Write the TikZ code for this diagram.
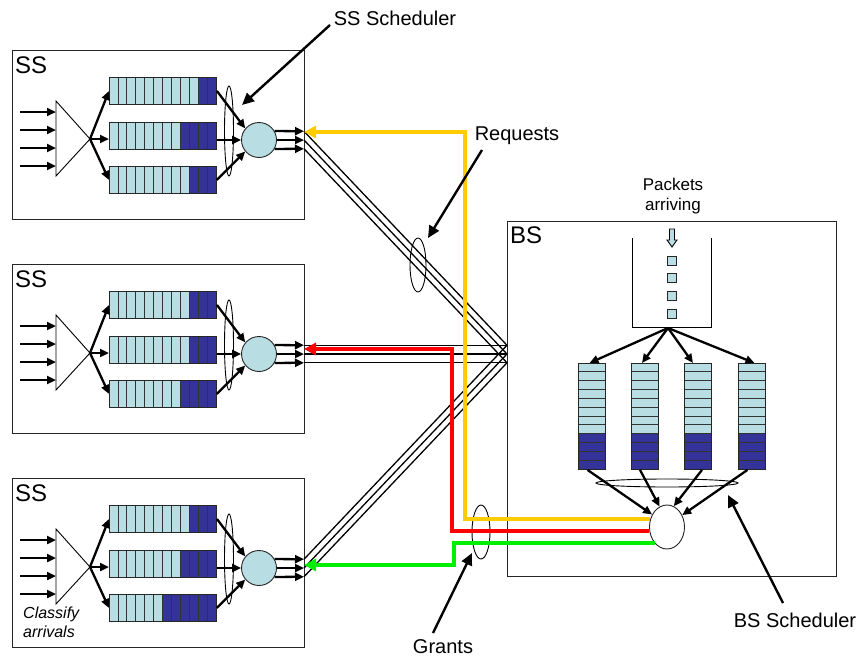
\documentclass[tikz,border=0pt]{standalone}
\usepackage{fontspec}
\setmainfont{Liberation Sans}
\usetikzlibrary{arrows.meta,calc,shapes.geometric}
\definecolor{qlight}{HTML}{B8DDE2}
\definecolor{qdark}{HTML}{333399}
\definecolor{reqc}{HTML}{FFCC00}
\definecolor{redc}{HTML}{FF0000}
\definecolor{grnc}{HTML}{00EE00}
\tikzset{
  box/.style={draw=black!85, line width=1.2pt, inner sep=0pt},
  qframe/.style={draw=black!85, line width=0.9pt, inner sep=0pt},
  cellst/.style={draw=black!80, line width=0.8pt},
  thinl/.style={draw=black, line width=0.9pt},
  arr/.style={line width=2.3pt, -{Triangle[length=9pt,width=8pt]}},
  larr/.style={line width=2.4pt, -{Triangle[length=12pt,width=11pt]}},
  bund/.style={line width=1.3pt},
  colline/.style={line width=4pt, line join=miter, -{Triangle[length=12pt,width=12pt]}},
  sched/.style={circle, draw=black!85, line width=0.9pt, fill=qlight, minimum size=35pt, inner sep=0pt},
  big/.style={font=\fontsize{24}{28}\selectfont, inner sep=0pt},
  lab/.style={font=\fontsize{20}{24}\selectfont, inner sep=0pt},
}
\newcommand{\hqueue}[4]{%
  \foreach \k in {0,...,11}{%
    \ifnum\k<#4\relax\def\cc{qlight}\else\def\cc{qdark}\fi
    \path[cellst, fill=\cc] (#2+\k*8.9167, #3) rectangle ++(8.9167,27);
  }
  \node[qframe, minimum width=107pt, minimum height=27pt, anchor=north west] (#1) at (#2,#3) {};
}
\newcommand{\vqueue}[2]{%
  \foreach \k in {0,...,11}{%
    \ifnum\k<8\relax\def\cc{qlight}\else\def\cc{qdark}\fi
    \path[cellst, fill=\cc] (#2-13.5, 363+\k*8.8333) rectangle ++(27,8.8333);
  }
  \node[qframe, minimum width=27pt, minimum height=106pt, anchor=north] (#1) at (#2,363) {};
}
\newcommand{\ssblock}[5]{%
  \begin{scope}[shift={(0,#2)}]
    \node[box, minimum width=292pt, minimum height=169pt, anchor=north west] (#1) at (12,0) {};
    \node[big, anchor=base west] (#1-lab) at (15,23) {SS};
    \coordinate (#1-apex) at (90,89);
    \draw[thinl] (56,51) -- (56,126) -- (#1-apex) -- cycle;
    \foreach \yy/\i in {62/1,80/2,98/3,116/4}{%
      \coordinate (#1-in\i) at (20,\yy);
      \coordinate (#1-tin\i) at (56,\yy);
      \draw[arr] (#1-in\i) -- (#1-tin\i);
    }
    \hqueue{#1-q1}{109}{27}{#3}
    \hqueue{#1-q2}{109}{72}{#4}
    \hqueue{#1-q3}{109}{116}{#5}
    \draw[arr] (#1-apex) -- (#1-q1.west);
    \draw[arr] (#1-apex) -- (#1-apex -| #1-q2.west);
    \draw[arr] (#1-apex) -- (#1-q3.west);
    \draw[thinl] (229,81) ellipse [x radius=4.5pt, y radius=45pt];
    \node[sched] (#1-c) at (259,90) {};
    \draw[arr] (#1-q1.east) -- (#1-c.140);
    \draw[arr] (#1-c.west -| #1-q2.east) -- (#1-c.west);
    \draw[arr] (#1-q3.east) -- (#1-c.220);
    \coordinate (#1-o1) at (304,81.25);
    \coordinate (#1-o2) at (304,90);
    \coordinate (#1-o3) at (304,98.75);
    \draw[arr] (#1-c.30) -- (#1-o1);
    \draw[arr] (#1-c.east) -- (#1-o2);
    \draw[arr] (#1-c.-30) -- (#1-o3);
  \end{scope}
}
\begin{document}
\begin{tikzpicture}[x=1pt,y=-1pt]
\useasboundingbox (0,0) rectangle (860,656);

% SS blocks
\ssblock{ssa}{50}{10}{8}{9}
\ssblock{ssb}{264}{9}{9}{8}
\ssblock{ssc}{478}{9}{8}{6}
\node[font=\fontsize{16}{19}\selectfont\itshape, align=left, anchor=north west, inner sep=0pt] (cls) at (23,607) {Classify\\arrivals};

% BS block
\node[box, minimum width=329pt, minimum height=355pt, anchor=north west] (bs) at (507,221) {};
\node[big, anchor=base west] (bslab) at (510,243) {BS};
\node[font=\fontsize{17}{20}\selectfont, align=center, anchor=north, inner sep=0pt] (pk) at (673,178) {Packets\\arriving};
\draw[thinl] (632,238) -- (632,327) -- (711,327) -- (711,238);
\draw[thinl, fill=qlight] (669.5,229) -- (674.5,229) -- (674.5,240) -- (677,240) -- (672,247) -- (667,240) -- (669.5,240) -- cycle;
\foreach \yy/\i in {261/1,278/2,296/3,314/4}{%
  \node[qframe, fill=qlight, minimum size=9pt] (pkt\i) at (672,\yy) {};
}
\coordinate (fork) at (668,328);
\vqueue{bq1}{591.5}
\vqueue{bq2}{645}
\vqueue{bq3}{698}
\vqueue{bq4}{751.5}
\draw[arr] (fork) -- ([xshift=-2pt]bq1.north);
\draw[arr] (fork) -- ([xshift=-3pt]bq2.north);
\draw[arr] (fork) -- ([xshift=-5pt]bq3.north);
\draw[arr] (fork) -- ([xshift=3pt]bq4.north);
\draw[thinl] (667,483) ellipse [x radius=71pt, y radius=4pt];
\node[ellipse, draw=black!85, line width=0.9pt, fill=white, minimum width=35pt, minimum height=44pt, inner sep=0pt] (bsc) at (667,527) {};
\draw[arr] ([xshift=-4pt]bq1.south) -- (bsc.140);
\draw[arr] ([xshift=-5pt]bq2.south) -- (bsc.110);
\draw[arr] ([xshift=4pt]bq3.south) -- (bsc.72);
\draw[arr] ([xshift=-4pt]bq4.south) -- (bsc.38);

% bundles
\coordinate (bsin1) at (507,345.25);
\coordinate (bsin2) at (507,354);
\coordinate (bsin3) at (507,362.75);
\foreach \s in {ssa,ssb,ssc}{%
  \foreach \k in {1,2,3}{%
    \draw[bund] (\s-o\k) -- (bsin\k);
  }
}
\draw[thinl] (418,265) ellipse [x radius=8pt, y radius=27pt];
\draw[thinl] (481,532) ellipse [x radius=9pt, y radius=27pt];

% request / grant lines
\coordinate (ytip) at (304,132);
\coordinate (rtip) at (304,349);
\coordinate (gtip) at (304,565);
\draw[colline, reqc] (bsc.155) -| (465,132) -- (ytip);
\draw[colline, redc] (bsc.193) -| (452,349) -- (rtip);
\draw[colline, grnc] (bsc.233) -| (454,565) -- (gtip);

% labels
\node[lab, anchor=base] (lss) at (395,25) {SS Scheduler};
\node[lab, anchor=base] (lreq) at (517,140) {Requests};
\node[lab, anchor=base] (lgr) at (443,653) {Grants};
\node[lab, anchor=base] (lbs) at (795,627) {BS Scheduler};
\coordinate (ssfrom) at (330,25);
\coordinate (reqfrom) at (482,150);
\coordinate (grfrom) at (433,633);
\coordinate (bsfrom) at (783,603);
\coordinate (sstip) at (242,105);
\coordinate (reqtip) at (428,238);
\coordinate (grtip) at (472,553);
\coordinate (bstip) at (728,495);
\draw[larr] (ssfrom) -- (sstip);
\draw[larr] (reqfrom) -- (reqtip);
\draw[larr] (grfrom) -- (grtip);
\draw[larr] (bsfrom) -- (bstip);
\end{tikzpicture}
\end{document}
